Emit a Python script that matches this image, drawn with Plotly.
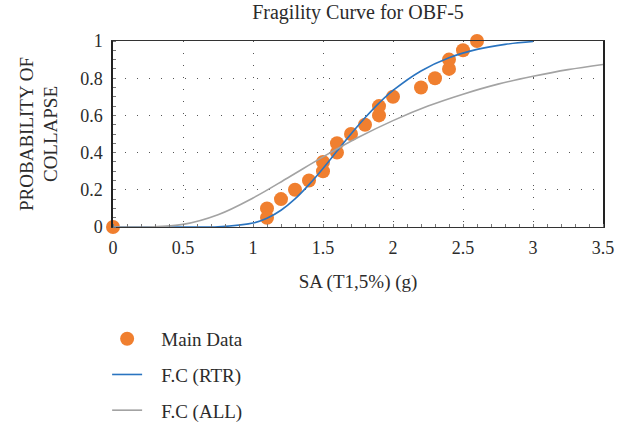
import plotly.graph_objects as go

# Main data (SA, probability of collapse)
sa_data = [0.0, 1.1, 1.1, 1.2, 1.3, 1.4, 1.5, 1.5, 1.6, 1.6, 1.7, 1.8, 1.9, 1.9, 2.0, 2.2, 2.3, 2.4, 2.4, 2.5, 2.6]
p_data = [0.0, 0.10, 0.05, 0.15, 0.20, 0.25, 0.30, 0.35, 0.40, 0.45, 0.50, 0.55, 0.60, 0.65, 0.70, 0.75, 0.80, 0.85, 0.90, 0.95, 1.0]

# Fitted curve RTR
sa_rtr = [0.0, 0.25, 0.5, 0.75, 1.0, 1.1, 1.2, 1.3, 1.4, 1.5, 1.6, 1.7, 1.8, 1.9, 2.0, 2.2, 2.4, 2.6, 2.8, 3.0]
p_rtr = [0.0, 0.0, 0.0, 0.001, 0.021, 0.047, 0.09, 0.151, 0.228, 0.315, 0.408, 0.5, 0.587, 0.666, 0.734, 0.839, 0.91, 0.955, 0.982, 0.997]

# Fitted curve ALL
sa_all = [0.0, 0.25, 0.5, 0.75, 1.0, 1.25, 1.5, 1.75, 2.0, 2.25, 2.5, 2.75, 3.0, 3.25, 3.5]
p_all = [0.0, 0.0003, 0.014, 0.066, 0.156, 0.265, 0.377, 0.481, 0.572, 0.65, 0.714, 0.768, 0.81, 0.846, 0.874]

x_ticks = [0, 0.5, 1, 1.5, 2, 2.5, 3, 3.5]
y_ticks = [0, 0.2, 0.4, 0.6, 0.8, 1]

FONT = "Liberation Serif"
TXT = "#2b2b2b"
PAD = "\u00a0\u00a0\u00a0"

fig = go.Figure()
fig.add_trace(go.Scatter(
    x=sa_data, y=p_data, mode="markers", name=PAD + "Main Data",
    marker=dict(color="#F07F2F", size=14), legendgroup="a", cliponaxis=False))
fig.add_trace(go.Scatter(
    x=sa_rtr, y=p_rtr, mode="lines", name=PAD + "F.C (RTR)",
    line=dict(color="#2A74C0", width=1.6, shape="spline"), legendgroup="b"))
fig.add_trace(go.Scatter(
    x=sa_all, y=p_all, mode="lines", name=PAD + "F.C (ALL)",
    line=dict(color="#A3A3A3", width=1.6, shape="spline"), legendgroup="c"))

fig.update_layout(
    width=625, height=426,
    margin=dict(l=113, r=22, t=41, b=199, autoexpand=False),
    paper_bgcolor="white", plot_bgcolor="white",
    font=dict(family=FONT, size=18, color=TXT),
    title=dict(text="Fragility Curve for OBF-5", x=0.5, xref="paper", xanchor="center",
               y=0.988, yanchor="top", font=dict(size=20, color=TXT, family=FONT)),
    showlegend=True,
    legend=dict(x=-0.012, xanchor="left", yref="container", y=0.249, yanchor="top",
                font=dict(size=19, family=FONT, color=TXT),
                itemwidth=30, tracegroupgap=8, bgcolor="rgba(0,0,0,0)"),
)

fig.update_xaxes(
    range=[0, 3.5], tickvals=x_ticks, ticktext=[str(v) for v in x_ticks],
    showline=True, linecolor="#333333", linewidth=1, mirror=True,
    showgrid=True, gridcolor="#555555", gridwidth=1, griddash="1px,11px",
    zeroline=False, ticks="", ticklabelstandoff=4,
    tickfont=dict(size=18),
    minor=dict(dtick=0.1, ticks="inside", ticklen=3, tickcolor="#777777", showgrid=False),
    title=dict(text="SA (T1,5%) (g)", standoff=18, font=dict(size=19, family=FONT, color=TXT)),
)
fig.update_yaxes(
    range=[0, 1], tickvals=y_ticks, ticktext=[str(v) for v in y_ticks],
    showline=True, linecolor="#222222", linewidth=1.5, mirror=True,
    showgrid=True, gridcolor="#555555", gridwidth=1, griddash="1px,11px",
    zeroline=False, ticks="", ticklabelstandoff=5,
    tickfont=dict(size=18),
    minor=dict(dtick=0.05, ticks="inside", ticklen=3, tickcolor="#777777", showgrid=False),
    title=dict(text="PROBABILITY OF<br>COLLAPSE", standoff=17, font=dict(size=19, family=FONT, color=TXT)),
)

fig.write_html("out.html")
